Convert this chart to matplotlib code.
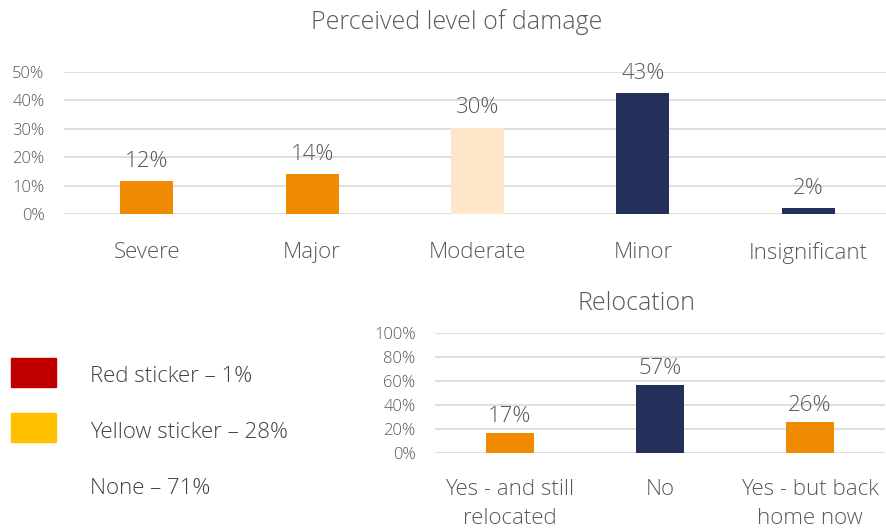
import matplotlib
matplotlib.use("Agg")
import matplotlib.pyplot as plt
from matplotlib.patches import Rectangle

plt.rcParams['font.family'] = ['Open Sans', 'DejaVu Sans']

damage_cats = ["Severe", "Major", "Moderate", "Minor", "Insignificant"]
damage_vals = [11.5, 14.0, 30.3, 42.5, 2.0]
damage_labels = ["12%", "14%", "30%", "43%", "2%"]
damage_colors = ["#F08A00", "#F08A00", "#FFE6C8", "#22305A", "#22305A"]

reloc_cats = ["Yes - and still\nrelocated", "No", "Yes - but back\nhome now"]
reloc_vals = [17.0, 57.0, 26.0]
reloc_labels = ["17%", "57%", "26%"]
reloc_colors = ["#F08A00", "#22305A", "#F08A00"]

sticker_labels = ["Red sticker \u2013 1%", "Yellow sticker \u2013 28%", "None \u2013 71%"]
sticker_colors = ["#C00000", "#FFC000", None]

TXT = "#595959"
GRID = "#D9D9D9"
W, H = 887, 530
fig = plt.figure(figsize=(W / 100, H / 100), dpi=100)

def style(ax, ticks, fs_tick):
    for s in ax.spines.values():
        s.set_visible(False)
    ax.set_yticks(ticks)
    ax.set_yticklabels([f"{int(t)}%" for t in ticks], color=TXT, fontsize=fs_tick, fontweight='light')
    ax.tick_params(axis='y', length=0, pad=14)
    ax.yaxis.grid(True, color=GRID, linewidth=1.2)
    ax.set_axisbelow(True)

# Top chart
ax1 = fig.add_axes([64 / W, 1 - 214 / H, (891 - 64) / W, 142 / H])
x1 = range(len(damage_cats))
ax1.bar(x1, damage_vals, width=0.32, color=damage_colors)
ax1.set_xlim(-0.5, len(damage_cats) - 0.5)
ax1.set_ylim(0, 50)
style(ax1, [0, 10, 20, 30, 40, 50], 12)
ax1.set_xticks(list(x1))
ax1.set_xticklabels(damage_cats, fontsize=16, color=TXT, fontweight='light')
ax1.tick_params(axis='x', length=0, pad=20)
for i, (v, l) in enumerate(zip(damage_vals, damage_labels)):
    ax1.text(i, v + 3.4, l, ha='center', va='bottom', fontsize=16, color=TXT, fontweight='light')
fig.text(457 / W, 1 - 22 / H, "Perceived level of damage", ha='center', va='center', fontsize=18, color=TXT, fontweight='light')

# Bottom chart
ax2 = fig.add_axes([435 / W, 1 - 453 / H, 450 / W, 120 / H])
x2 = range(len(reloc_cats))
ax2.bar(x2, reloc_vals, width=0.32, color=reloc_colors)
ax2.set_xlim(-0.5, len(reloc_cats) - 0.5)
ax2.set_ylim(0, 100)
style(ax2, [0, 20, 40, 60, 80, 100], 12)
ax2.set_xticks(list(x2))
ax2.set_xticklabels(reloc_cats, fontsize=16, color=TXT, fontweight='light', linespacing=1.45)
ax2.tick_params(axis='x', length=0, pad=19)
for i, (v, l) in enumerate(zip(reloc_vals, reloc_labels)):
    ax2.text(i, v + 5, l, ha='center', va='bottom', fontsize=16, color=TXT, fontweight='light')
fig.text(636 / W, 1 - 303 / H, "Relocation", ha='center', va='center', fontsize=18, color=TXT, fontweight='light')

# Sticker legend
ys = [375, 430, 486]
for y, lab, c in zip(ys, sticker_labels, sticker_colors):
    if c is not None:
        fig.patches.append(Rectangle((11 / W, 1 - (y + 12) / H), 45 / W, 29 / H,
                                     transform=fig.transFigure, color=c, figure=fig))
    fig.text(90 / W, 1 - (y + 2) / H, lab, ha='left', va='center', fontsize=16, color="#404040", fontweight='light')

fig.savefig("out.png", dpi=100)
